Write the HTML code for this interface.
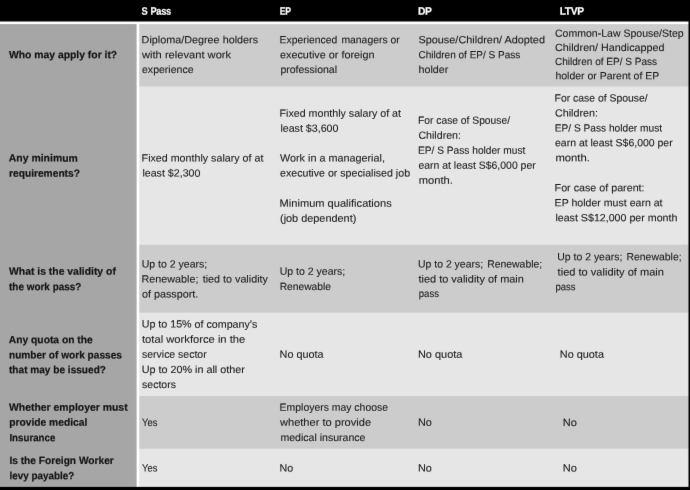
<!DOCTYPE html>
<html><head><meta charset="utf-8"><title>Work pass comparison</title><style>
html,body{margin:0;padding:0;}
body{width:690px;height:490px;overflow:hidden;background:#000;position:relative;font-family:"Liberation Sans",sans-serif;}
#root{position:absolute;left:0;top:0;width:690px;height:490px;will-change:transform;}
#fx{position:absolute;left:0;top:0;width:690px;height:490px;overflow:hidden;filter:url(#soft);}
.bg{position:absolute;}
.l{position:absolute;white-space:nowrap;line-height:14px;height:14px;font-size:10.4px;color:#1c1c1c;-webkit-text-stroke:0.1px #1c1c1c;transform-origin:0 0;left:0;top:0;}
.b{font-weight:bold;font-size:10.5px;color:#141414;-webkit-text-stroke:0.2px #141414;}
.h{font-weight:bold;font-size:10.8px;color:#fff;-webkit-text-stroke:0.2px #fff;letter-spacing:-0.4px;word-spacing:1.2px;}
</style></head><body>
<svg width="0" height="0" style="position:absolute"><filter id="soft" x="0" y="0" width="100%" height="100%" color-interpolation-filters="sRGB"><feConvolveMatrix order="3" kernelMatrix="0.00276 0.04704 0.00276 0.04704 0.80077 0.04704 0.00276 0.04704 0.00276" edgeMode="duplicate" preserveAlpha="true"/></filter></svg>
<div id="root"><div id="fx">
<svg class="bg" width="690" height="490" viewBox="0 0 690 490" style="left:0;top:0"><rect x="0" y="0" width="690.00" height="490.00" fill="#000"/><rect x="0" y="21.5" width="690.00" height="468.50" fill="#fff"/><rect x="0" y="24.1" width="690.00" height="465.90" fill="#cccccc"/><rect x="0" y="86.5" width="690.00" height="403.50" fill="#e6e6e6"/><rect x="0" y="244.8" width="690.00" height="245.20" fill="#cccccc"/><rect x="0" y="312.6" width="690.00" height="177.40" fill="#e6e6e6"/><rect x="0" y="396" width="690.00" height="94.00" fill="#cccccc"/><rect x="0" y="448.7" width="690.00" height="41.30" fill="#e6e6e6"/><rect x="0" y="23.1" width="139.20" height="466.90" fill="#fff"/><rect x="0" y="24.1" width="136.60" height="465.90" fill="#a6a6a6"/><rect x="688.5" y="0" width="1.50" height="490.00" fill="#000"/><rect x="0" y="486.9" width="690.00" height="3.10" fill="#000"/></svg>
<div class="l h" style="transform:matrix(0.8586,0.0005,0,1,141.39,3.80)">S Pass</div>
<div class="l h" style="transform:matrix(0.8020,0.0005,0,1,279.77,3.80)">EP</div>
<div class="l h" style="transform:matrix(0.9544,0.0005,0,1,418.05,3.80)">DP</div>
<div class="l h" style="transform:matrix(0.9504,0.0005,0,1,559.66,3.80)">LTVP</div>
<div class="l b" style="transform:matrix(0.9863,0.0005,0,1,9.02,47.20)">Who may apply for it?</div>
<div class="l b" style="transform:matrix(0.9942,0.0005,0,1,8.80,150.60)">Any minimum</div>
<div class="l b" style="transform:matrix(0.9726,0.0005,0,1,9.00,165.80)">requirements?</div>
<div class="l b" style="transform:matrix(0.9897,0.0005,0,1,9.02,263.80)">What is the validity of</div>
<div class="l b" style="transform:matrix(0.9474,0.0005,0,1,9.00,279.20)">the work pass?</div>
<div class="l b" style="transform:matrix(0.9791,0.0005,0,1,8.80,332.20)">Any quota on the</div>
<div class="l b" style="transform:matrix(0.9624,0.0005,0,1,9.00,347.40)">number of work passes</div>
<div class="l b" style="transform:matrix(0.9604,0.0005,0,1,9.00,362.20)">that may be issued?</div>
<div class="l b" style="transform:matrix(0.9915,0.0005,0,1,9.02,399.80)">Whether employer must</div>
<div class="l b" style="transform:matrix(0.9775,0.0005,0,1,9.20,414.80)">provide medical</div>
<div class="l b" style="transform:matrix(0.9257,0.0005,0,1,9.40,430.20)">Insurance</div>
<div class="l b" style="transform:matrix(0.9685,0.0005,0,1,9.40,453.00)">Is the Foreign Worker</div>
<div class="l b" style="transform:matrix(0.9420,0.0005,0,1,9.40,468.20)">levy payable?</div>
<div class="l" style="transform:matrix(1.0394,0.0005,0,1,141.59,33.20)">Diploma/Degree holders</div>
<div class="l" style="transform:matrix(1.0715,0.0005,0,1,142.00,48.20)">with relevant work</div>
<div class="l" style="transform:matrix(1.0147,0.0005,0,1,142.00,63.00)">experience</div>
<div class="l" style="transform:matrix(1.0286,0.0005,0,1,141.60,151.40)">Fixed monthly salary of at</div>
<div class="l" style="transform:matrix(1.0252,0.0005,0,1,142.40,166.60)">least $2,300</div>
<div class="l" style="transform:matrix(1.0145,0.0005,0,1,141.67,257.40)">Up to 2 years;</div>
<div class="l" style="transform:matrix(1.0361,0.0005,0,1,141.59,272.40)">Renewable;<span style="display:inline-block;width:1.2px"></span> tied to validity</div>
<div class="l" style="transform:matrix(1.0370,0.0005,0,1,142.00,287.40)">of passport.</div>
<div class="l" style="transform:matrix(1.0292,0.0005,0,1,141.66,317.60)">Up to 15% of company’s</div>
<div class="l" style="transform:matrix(1.0771,0.0005,0,1,142.00,332.80)">total workforce in the</div>
<div class="l" style="transform:matrix(1.0086,0.0005,0,1,142.00,347.80)">service sector</div>
<div class="l" style="transform:matrix(1.0378,0.0005,0,1,141.65,363.00)">Up to 20% in all other</div>
<div class="l" style="transform:matrix(1.0160,0.0005,0,1,142.00,378.00)">sectors</div>
<div class="l" style="transform:matrix(0.9059,0.0005,0,1,142.00,416.00)">Yes</div>
<div class="l" style="transform:matrix(0.9059,0.0005,0,1,142.00,461.40)">Yes</div>
<div class="l" style="transform:matrix(0.9994,0.0005,0,1,279.62,33.20)">Experienced<span style="display:inline-block;width:1.2px"></span> managers or</div>
<div class="l" style="transform:matrix(1.0421,0.0005,0,1,280.00,48.20)">executive or foreign</div>
<div class="l" style="transform:matrix(1.0107,0.0005,0,1,280.40,63.00)">professional</div>
<div class="l" style="transform:matrix(1.0252,0.0005,0,1,279.60,106.80)">Fixed monthly salary of at</div>
<div class="l" style="transform:matrix(1.0252,0.0005,0,1,280.40,121.80)">least $3,600</div>
<div class="l" style="transform:matrix(1.0400,0.0005,0,1,280.00,151.40)">Work in a managerial,</div>
<div class="l" style="transform:matrix(1.0236,0.0005,0,1,280.00,166.40)">executive or specialised job</div>
<div class="l" style="transform:matrix(1.0670,0.0005,0,1,279.57,196.80)">Minimum qualifications</div>
<div class="l" style="transform:matrix(1.0485,0.0005,0,1,280.00,211.80)">(job dependent)</div>
<div class="l" style="transform:matrix(1.0145,0.0005,0,1,279.67,264.80)">Up to 2 years;</div>
<div class="l" style="transform:matrix(0.9879,0.0005,0,1,279.63,280.00)">Renewable</div>
<div class="l" style="transform:matrix(1.0422,0.0005,0,1,279.59,347.80)">No quota</div>
<div class="l" style="transform:matrix(1.0035,0.0005,0,1,279.62,400.80)">Employers may choose</div>
<div class="l" style="transform:matrix(1.0650,0.0005,0,1,280.00,415.80)">whether to provide</div>
<div class="l" style="transform:matrix(1.0161,0.0005,0,1,280.40,431.00)">medical insurance</div>
<div class="l" style="transform:matrix(1.0310,0.0005,0,1,279.60,461.40)">No</div>
<div class="l" style="transform:matrix(1.0485,0.0005,0,1,418.40,33.20)">Spouse/Children/ Adopted</div>
<div class="l" style="transform:matrix(0.9642,0.0005,0,1,418.40,48.20)">Children of EP/ S Pass</div>
<div class="l" style="transform:matrix(1.0276,0.0005,0,1,418.60,63.00)">holder</div>
<div class="l" style="transform:matrix(0.9889,0.0005,0,1,418.03,113.80)">For case of Spouse/</div>
<div class="l" style="transform:matrix(1.0244,0.0005,0,1,418.40,128.80)">Children:</div>
<div class="l" style="transform:matrix(0.9778,0.0005,0,1,418.04,143.80)">EP/ S Pass holder must</div>
<div class="l" style="transform:matrix(1.0051,0.0005,0,1,418.40,158.80)">earn at least S$6,000 per</div>
<div class="l" style="transform:matrix(1.0710,0.0005,0,1,418.80,173.80)">month.</div>
<div class="l" style="transform:matrix(1.0042,0.0005,0,1,418.08,257.40)">Up to 2 years;<span style="display:inline-block;width:1.2px"></span> Renewable;</div>
<div class="l" style="transform:matrix(1.0560,0.0005,0,1,418.40,272.40)">tied to validity of main</div>
<div class="l" style="transform:matrix(0.9182,0.0005,0,1,418.80,287.00)">pass</div>
<div class="l" style="transform:matrix(1.0519,0.0005,0,1,417.98,347.80)">No quota</div>
<div class="l" style="transform:matrix(1.0474,0.0005,0,1,417.98,415.80)">No</div>
<div class="l" style="transform:matrix(1.0474,0.0005,0,1,417.98,461.40)">No</div>
<div class="l" style="transform:matrix(1.0126,0.0005,0,1,555.00,26.80)">Common-Law Spouse/Step</div>
<div class="l" style="transform:matrix(1.0364,0.0005,0,1,555.00,41.00)">Children/ Handicapped</div>
<div class="l" style="transform:matrix(0.9660,0.0005,0,1,555.00,55.00)">Children of EP/ S Pass</div>
<div class="l" style="transform:matrix(1.0097,0.0005,0,1,555.40,69.20)">holder or Parent of EP</div>
<div class="l" style="transform:matrix(0.9998,0.0005,0,1,554.62,91.40)">For case of Spouse/</div>
<div class="l" style="transform:matrix(1.0341,0.0005,0,1,555.00,106.60)">Children:</div>
<div class="l" style="transform:matrix(0.9797,0.0005,0,1,554.64,121.40)">EP/ S Pass holder must</div>
<div class="l" style="transform:matrix(1.0085,0.0005,0,1,555.00,136.20)">earn at least S$6,000 per</div>
<div class="l" style="transform:matrix(1.0839,0.0005,0,1,555.40,151.20)">month.</div>
<div class="l" style="transform:matrix(1.0317,0.0005,0,1,554.60,181.20)">For case of parent:</div>
<div class="l" style="transform:matrix(1.0176,0.0005,0,1,554.61,196.20)">EP holder must earn at</div>
<div class="l" style="transform:matrix(1.0252,0.0005,0,1,555.40,211.20)">least S$12,000 per month</div>
<div class="l" style="transform:matrix(1.0059,0.0005,0,1,557.28,250.30)">Up to 2 years;<span style="display:inline-block;width:1.2px"></span> Renewable;</div>
<div class="l" style="transform:matrix(1.0640,0.0005,0,1,557.60,265.40)">tied to validity of main</div>
<div class="l" style="transform:matrix(0.9182,0.0005,0,1,555.40,280.20)">pass</div>
<div class="l" style="transform:matrix(1.0470,0.0005,0,1,559.78,347.80)">No quota</div>
<div class="l" style="transform:matrix(1.0638,0.0005,0,1,562.77,416.00)">No</div>
<div class="l" style="transform:matrix(1.0638,0.0005,0,1,562.77,461.40)">No</div>
</div></div></body></html>
